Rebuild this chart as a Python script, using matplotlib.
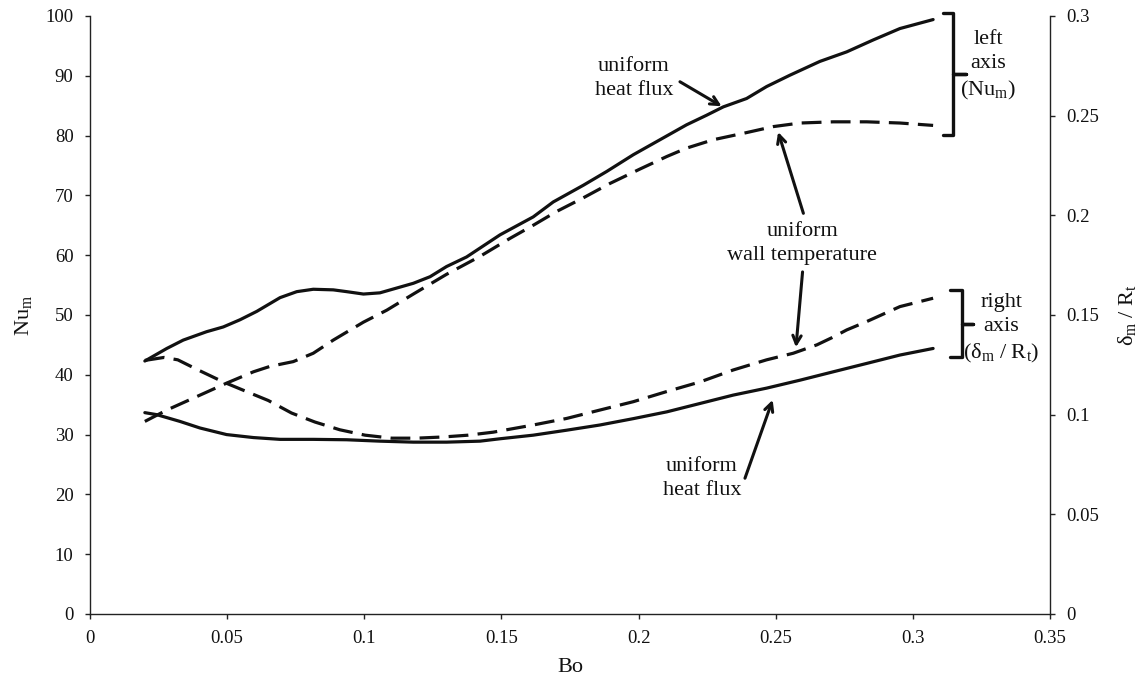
import matplotlib
matplotlib.use("Agg")
import matplotlib.pyplot as plt
from matplotlib.ticker import FuncFormatter, MultipleLocator

plt.rcParams['font.family'] = ['Liberation Serif', 'DejaVu Serif']
plt.rcParams['mathtext.fontset'] = 'custom'
plt.rcParams['mathtext.rm'] = 'Liberation Serif'
plt.rcParams['mathtext.it'] = 'Liberation Serif:italic'

# Mean Nusselt number, uniform heat flux (left axis)
bo_nu_flux = [0.02, 0.028, 0.034, 0.0425, 0.0486, 0.0547, 0.0608, 0.0693, 0.0754,
              0.0814, 0.0887, 0.0936, 0.0997, 0.1057, 0.1118, 0.1179, 0.124, 0.130,
              0.1373, 0.1495, 0.1616, 0.1689, 0.1799, 0.1884, 0.1981, 0.2078,
              0.2175, 0.2248, 0.2309, 0.2394, 0.2467, 0.2552, 0.2661, 0.2759,
              0.2856, 0.2953, 0.3074]
nu_flux = [42.3, 44.4, 45.8, 47.2, 48.0, 49.2, 50.6, 52.9, 53.9, 54.3, 54.2, 53.9,
           53.5, 53.7, 54.5, 55.3, 56.4, 58.1, 59.7, 63.4, 66.4, 68.9, 71.7, 74.0,
           76.8, 79.3, 81.8, 83.4, 84.8, 86.2, 88.2, 90.1, 92.4, 94.0, 96.0, 97.9,
           99.4]

# Mean Nusselt number, uniform wall temperature (left axis)
bo_nu_wall = [0.02, 0.028, 0.0377, 0.0498, 0.0596, 0.0656, 0.0741, 0.0814, 0.0887,
              0.0997, 0.1082, 0.1179, 0.130, 0.1422, 0.1531, 0.1616, 0.1701, 0.1799,
              0.1896, 0.2005, 0.2103, 0.2175, 0.2272, 0.2394, 0.2491, 0.2589, 0.271,
              0.2832, 0.2953, 0.3074]
nu_wall = [32.2, 34.1, 36.1, 38.6, 40.5, 41.4, 42.2, 43.6, 45.8, 48.8, 50.8, 53.5,
           56.8, 59.8, 62.8, 65.0, 67.3, 69.6, 72.0, 74.4, 76.5, 77.9, 79.3, 80.5,
           81.5, 82.1, 82.3, 82.3, 82.1, 81.7]

# Mean film thickness ratio, uniform heat flux (right axis)
bo_d_flux = [0.02, 0.0243, 0.0328, 0.0401, 0.0498, 0.0596, 0.0693, 0.0814, 0.0936,
             0.1057, 0.1179, 0.130, 0.1422, 0.1495, 0.1616, 0.1738, 0.1859, 0.1981,
             0.2103, 0.2224, 0.2345, 0.2467, 0.2589, 0.271, 0.2832, 0.2953, 0.3074]
d_flux = [0.101, 0.100, 0.0966, 0.0933, 0.090, 0.0885, 0.0876, 0.0876, 0.0874,
          0.0867, 0.0862, 0.0862, 0.0867, 0.0879, 0.0897, 0.0922, 0.0948, 0.098,
          0.1014, 0.1056, 0.1098, 0.1133, 0.1173, 0.1215, 0.1257, 0.1299, 0.1332]

# Mean film thickness ratio, uniform wall temperature (right axis)
bo_d_wall = [0.02, 0.027, 0.032, 0.0399, 0.0486, 0.0565, 0.065, 0.0735, 0.082,
             0.0911, 0.1003, 0.11, 0.1191, 0.1288, 0.1379, 0.147, 0.1616, 0.1738,
             0.1859, 0.1981, 0.2103, 0.2224, 0.2345, 0.2467, 0.2564, 0.265, 0.2705,
             0.2759, 0.2832, 0.2953, 0.3074]
d_wall = [0.1272, 0.1287, 0.1275, 0.1221, 0.1164, 0.1119, 0.1071, 0.1008, 0.0963,
          0.0924, 0.0897, 0.0882, 0.0882, 0.0888, 0.0897, 0.0912, 0.0948, 0.0981,
          0.1023, 0.1065, 0.1116, 0.1164, 0.1224, 0.1275, 0.1308, 0.135, 0.1386,
          0.1425, 0.1467, 0.1542, 0.1584]

ink = '#111111'
dash = (0, (6.2, 2.9))
lw = 2.3

fig = plt.figure(figsize=(11.42, 6.8), dpi=100)
fig.subplots_adjust(left=0.0788, right=0.9194, bottom=0.0971, top=0.9765)
ax = fig.add_subplot(111)
ax2 = ax.twinx()

line_kw = dict(color=ink, lw=lw, solid_joinstyle='round', dash_joinstyle='round',
               solid_capstyle='round')
ax.plot(bo_nu_flux, nu_flux, **line_kw)
ax.plot(bo_nu_wall, nu_wall, linestyle=dash, **line_kw)
ax2.plot(bo_d_flux, d_flux, **line_kw)
ax2.plot(bo_d_wall, d_wall, linestyle=dash, **line_kw)

ax.set_xlim(0, 0.35)
ax.set_ylim(0, 100)
ax2.set_ylim(0, 0.3)

fmt = FuncFormatter(lambda v, p: '%g' % round(v, 4))
ax.xaxis.set_major_locator(MultipleLocator(0.05))
ax.xaxis.set_major_formatter(fmt)
ax.yaxis.set_major_locator(MultipleLocator(10))
ax2.yaxis.set_major_locator(MultipleLocator(0.05))
ax2.yaxis.set_major_formatter(fmt)

for a in (ax, ax2):
    a.spines['top'].set_visible(False)
    for s in a.spines.values():
        s.set_color('#222222')
        s.set_linewidth(1.0)
    a.tick_params(direction='out', length=3.8, width=1.0, colors='#222222',
                  labelsize=13.5, pad=8, labelcolor=ink)
ax.spines['right'].set_visible(False)
ax2.spines['left'].set_visible(False)
ax2.spines['bottom'].set_visible(False)

ax.set_xlabel('Bo', fontsize=16, color=ink)
ax.xaxis.set_label_coords(0.5, -0.074)
ax.set_ylabel(r'Nu$_\mathrm{m}$', fontsize=16, color=ink)
ax.yaxis.set_label_coords(-0.058, 0.5)
ax2.set_ylabel(r'δ$_\mathrm{m}$ / R$_\mathrm{t}$', fontsize=16, color=ink)
ax2.yaxis.set_label_coords(1.069, 0.5)

# Callout labels with arrows (positions in left-axis units)
txt = dict(fontsize=16, color=ink, ha='center', va='center',
           multialignment='center', linespacing=1.35)
arrow = dict(arrowstyle='->,head_length=0.6,head_width=0.3', lw=2.2, color=ink,
             shrinkA=0, shrinkB=0)

ax.text(0.1983, 89.6, 'uniform\nheat flux', **txt)
ax.annotate('', xy=(0.2303, 84.9), xytext=(0.2151, 89.0), arrowprops=arrow)

ax.text(0.2597, 61.9, 'uniform\nwall temperature', **txt)
ax.annotate('', xy=(0.2509, 80.6), xytext=(0.2601, 67.0), arrowprops=arrow)
ax.annotate('', xy=(0.2574, 44.6), xytext=(0.2598, 57.2), arrowprops=arrow)

ax.text(0.2231, 22.6, 'uniform\nheat flux', **txt)
ax.annotate('', xy=(0.2489, 35.8), xytext=(0.2388, 22.7), arrowprops=arrow)

# Braces grouping the curves by axis
def brace(x_hook, x_line, x_tip, y_top, y_bot):
    y_mid = 0.5 * (y_top + y_bot)
    ax.plot([x_hook, x_line, x_line, x_tip, x_line, x_line, x_hook],
            [y_top, y_top, y_mid, y_mid, y_mid, y_bot, y_bot],
            color=ink, lw=2.4, solid_joinstyle='round', solid_capstyle='round',
            clip_on=False)

brace(0.3111, 0.3148, 0.3194, 100.45, 80.1)
ax.text(0.3275, 91.6, 'left\naxis\n(Nu$_\\mathrm{m}$)', **txt)

brace(0.3135, 0.3178, 0.3220, 54.1, 42.9)
ax.text(0.3322, 47.6, 'right\naxis\n(δ$_\\mathrm{m}$ / R$_\\mathrm{t}$)', **txt)

fig.savefig('out.png', dpi=100, facecolor='white')
